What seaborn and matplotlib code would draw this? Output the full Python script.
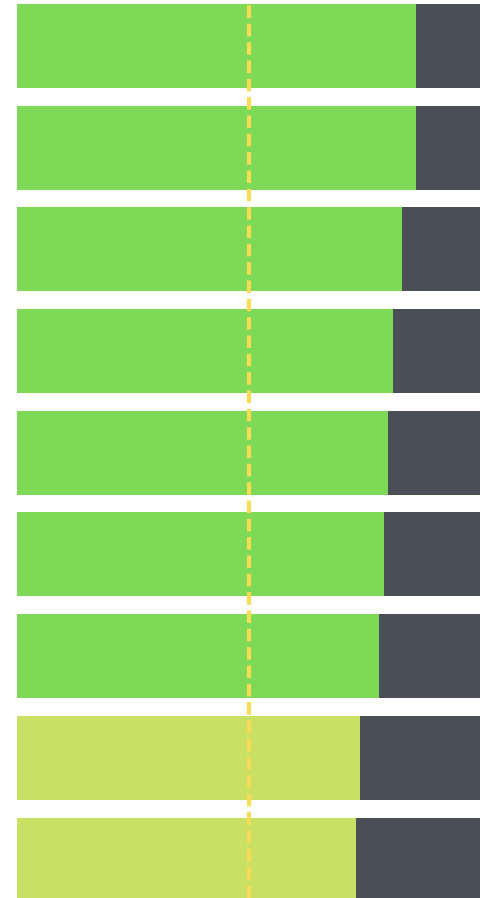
import matplotlib
matplotlib.use("Agg")
import matplotlib.pyplot as plt
import numpy as np
import pandas as pd
import seaborn as sns

# values (percent of the full bar)
rows = ["r1", "r2", "r3", "r4", "r5", "r6", "r7", "r8", "r9"]
scores = [86, 86, 83, 81, 80, 79, 78, 74, 73]
totals = [100, 100, 100, 100, 100, 100, 100, 100, 100]
target = 50

green = "#7ed957"
lime = "#c9e064"
dark = "#4a4f57"
line_col = "#f8dc55"

df = pd.DataFrame({"row": rows, "score": scores, "total": totals})
bar_cols = [green if s >= 75 else lime for s in scores]

sns.set_style("white")
fig = plt.figure(figsize=(4.81, 8.98), dpi=100)
ax = fig.add_axes([0, 0, 1, 1])

# remainder first (full bar), then the score on top
sns.barplot(data=df, x="total", y="row", color=dark, width=0.826,
            orient="h", ax=ax, edgecolor="none", saturation=1)
sns.barplot(data=df, x="score", y="row", hue="row", palette=bar_cols,
            legend=False, width=0.826, orient="h", ax=ax, edgecolor="none",
            saturation=1)

ax.axvline(target, color=line_col, lw=3, ls=(0, (3, 1.4)), zorder=5)

ax.set_xlim(-17 / 4.64, 100)
ax.set_ylim(8.378, -0.452)
ax.set_xlabel("")
ax.set_ylabel("")
ax.set_xticks([])
ax.set_yticks([])
sns.despine(ax=ax, left=True, bottom=True)

fig.savefig("out.png", dpi=100)
